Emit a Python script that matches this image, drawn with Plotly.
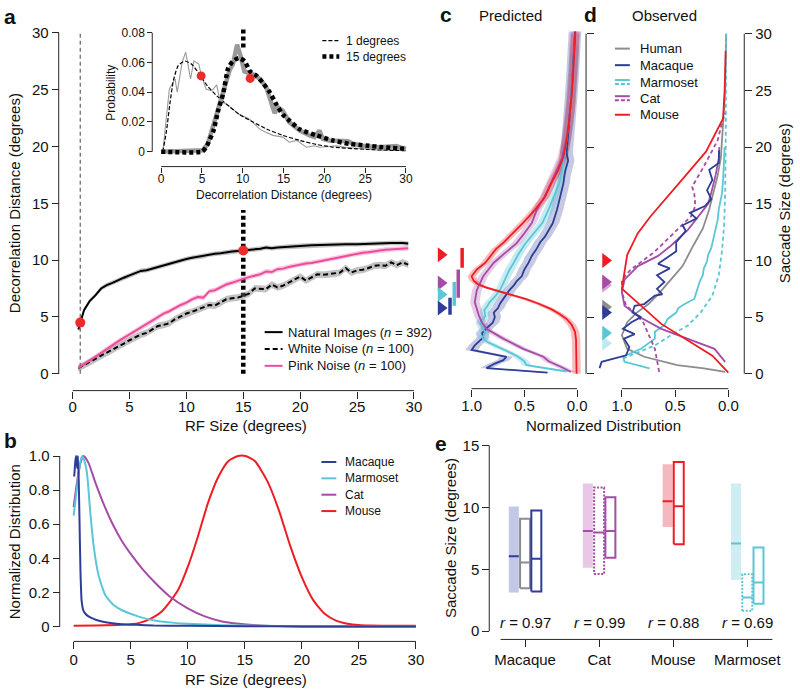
import plotly.graph_objects as go

# ======================= DATA =======================
# Panel a: decorrelation distance vs RF size
NAT_X = [0.5, 0.67, 1, 1.5, 2, 2.5, 3, 3.5, 4, 4.5, 5, 5.5, 6, 6.5, 7, 7.5, 8, 8.5, 9, 9.5,
         10, 10.5, 11, 11.5, 12, 12.5, 13, 13.5, 14, 14.5, 15, 15.5, 16, 16.5, 17, 17.5, 18,
         19, 20, 21, 22, 23, 24, 25, 26, 27, 28, 29, 29.5]
NAT_Y = [3.9, 4.5, 5.6, 6.4, 6.9, 7.5, 7.8, 8.0, 8.25, 8.45, 8.65, 8.85, 9.05, 9.1, 9.25, 9.4,
         9.55, 9.7, 9.85, 9.95, 10.1, 10.2, 10.3, 10.35, 10.5, 10.55, 10.6, 10.7, 10.75, 10.8,
         10.85, 10.85, 10.95, 11.0, 11.1, 11.05, 11.1, 11.2, 11.25, 11.3, 11.35, 11.35, 11.4,
         11.4, 11.45, 11.45, 11.5, 11.5, 11.45]
NOISE_X = [0.5, 1, 1.5, 2, 2.5, 3, 3.5, 4, 4.5, 5, 5.5, 6, 6.5, 7, 7.5, 8, 8.5, 9, 9.5, 10,
           10.5, 11, 11.5, 12, 12.5, 13, 13.5, 14, 14.5, 15, 15.5, 16, 16.5, 17, 17.5, 18,
           18.5, 19, 19.5, 20, 20.5, 21, 21.5, 22, 22.5, 23, 23.5, 24, 24.5, 25, 25.5, 26,
           26.5, 27, 27.5, 28, 28.5, 29, 29.5]
PINK_Y = [0.5, 0.8, 1.15, 1.5, 1.85, 2.2, 2.5, 2.85, 3.15, 3.45, 3.75, 4.05, 4.35, 4.65, 4.95,
          5.3, 5.5, 5.8, 6.05, 6.25, 6.55, 6.75, 6.7, 7.25, 7.35, 7.6, 7.85, 8.0, 8.2, 8.35,
          8.5, 8.65, 8.75, 9.0, 8.95, 9.2, 9.25, 9.4, 9.5, 9.65, 9.7, 9.75, 9.85, 10.0, 10.1,
          10.2, 10.25, 10.35, 10.5, 10.55, 10.65, 10.7, 10.8, 10.85, 10.9, 10.95, 11.0, 11.05, 11.05]
WHITE_Y = [0.5, 0.75, 1.0, 1.3, 1.6, 1.85, 2.1, 2.4, 2.65, 2.95, 3.2, 3.45, 3.6, 3.9, 4.2, 4.3,
           4.45, 4.8, 5.05, 5.3, 5.45, 5.65, 5.85, 6.05, 6.0, 6.25, 6.55, 6.65, 6.7, 6.85, 7.05,
           7.5, 7.5, 7.45, 7.85, 7.6, 7.75, 8.0, 8.25, 8.55, 8.2, 8.45, 8.75, 8.7, 8.75, 8.8,
           8.9, 9.3, 8.9, 9.1, 9.15, 9.3, 9.5, 9.55, 9.5, 9.8, 9.55, 9.8, 9.6]
NAT_SEM, PINK_SEM, WHITE_SEM = 0.2, 0.22, 0.3
A_DOT_X = [0.67, 15]
A_DOT_Y = [4.5, 10.85]
A_RF_SMALL, A_RF_LARGE = 0.67, 15

# Panel a inset: probability distributions
ONE_RAW_X = [0.2, 1.0, 1.7, 1.96, 2.57, 3.0, 3.6, 4.0, 4.6, 4.9, 5.5, 6.2, 6.8, 7.2, 8.0, 9.6,
             10.8, 12.1, 12.9, 13.7, 14.9, 15.7, 16.6, 17.2, 17.8, 18.8, 19.4, 20.5, 21.5, 22.5,
             23.5, 24.5, 25.5, 26.5, 27.5, 28.5, 29.5]
ONE_RAW_Y = [0, 0.042, 0.049, 0.040, 0.060, 0.067, 0.049, 0.061, 0.059, 0.052, 0.042, 0.041,
             0.045, 0.034, 0.032, 0.025, 0.022, 0.015, 0.013, 0.011, 0.0098, 0.0064, 0.0076,
             0.0053, 0.003, 0.004, 0.003, 0.0035, 0.004, 0.003, 0.0025, 0.002, 0.0015, 0.0012,
             0.001, 0.0012, 0.001]
ONE_FIT_X = [0.2, 0.65, 1.06, 1.5, 2.1, 2.9, 3.7, 4.7, 5.7, 6.8, 8.0, 9.6, 11.25, 12.9, 14.9,
             17, 19, 21, 25.1, 30]
ONE_FIT_Y = [0, 0.014, 0.032, 0.048, 0.058, 0.061, 0.059, 0.052, 0.044, 0.0376, 0.032, 0.025,
             0.020, 0.0153, 0.011, 0.0076, 0.0049, 0.0031, 0.0016, 0.0007]
FIF_RAW_X = [0, 5.1, 5.7, 6.6, 7.6, 8.4, 8.8, 9.3, 9.7, 10.2, 11.25, 12.1, 12.9, 13.5, 13.9,
             14.3, 14.9, 15.7, 17, 18.2, 18.8, 19.4, 19.8, 20.6, 21.9, 22.9, 23.5, 25.1, 26.7,
             28.2, 28.8, 29.4, 30]
FIF_RAW_Y = [0, 0.001, 0.005, 0.021, 0.039, 0.055, 0.059, 0.072, 0.065, 0.054, 0.052, 0.049,
             0.043, 0.034, 0.026, 0.030, 0.0276, 0.0198, 0.0142, 0.011, 0.0098, 0.0142, 0.0087,
             0.0076, 0.0071, 0.0071, 0.0053, 0.0036, 0.003, 0.0036, 0.0038, 0.0027, 0.002]
FIF_FIT_X = [0, 5.0, 5.5, 6.4, 7.0, 7.6, 8.2, 8.8, 9.5, 10.2, 10.9, 11.7, 12.5, 13.3, 14.1, 14.9,
             15.7, 17, 19, 21, 23, 25.1, 27.2, 30]
FIF_FIT_Y = [0, 0, 0.003, 0.014, 0.028, 0.039, 0.056, 0.061, 0.063, 0.061, 0.054, 0.051, 0.046,
             0.040, 0.032, 0.025, 0.021, 0.015, 0.011, 0.0076, 0.0053, 0.0042, 0.003, 0.002]
INSET_DOT_X = [4.9, 10.9]
INSET_DOT_Y = [0.051, 0.0493]

# Panel b: RF size distributions
MAC_X = [0.05, 0.15, 0.22, 0.3, 0.38, 0.45, 0.52, 0.6, 0.7, 0.85, 1.0, 1.3, 1.6, 2.0, 2.8, 4.2,
         5.5, 7.0, 10, 15, 20, 30]
MAC_Y = [0.88, 0.97, 1.0, 0.93, 1.0, 0.85, 0.6, 0.32, 0.15, 0.095, 0.078, 0.06, 0.049, 0.038,
         0.025, 0.014, 0.01, 0.006, 0.004, 0.002, 0.001, 0.0]
MAR_X = [0, 0.2, 0.4, 0.6, 0.75, 0.9, 1.17, 1.46, 1.75, 2.19, 2.77, 3.5, 4.2, 5.7, 7.1, 8.6, 10,
         13, 16, 20, 25, 30]
MAR_Y = [0.65, 0.76, 0.88, 0.97, 1.0, 0.98, 0.9, 0.67, 0.475, 0.30, 0.185, 0.126, 0.097, 0.058,
         0.035, 0.023, 0.016, 0.008, 0.004, 0.002, 0.001, 0.0]
CAT_X = [0, 0.3, 0.6, 0.87, 1.3, 1.9, 2.5, 3.35, 4.2, 5.1, 6.0, 7.1, 8.45, 10, 11.5, 13, 14.5,
         16, 18, 20, 25, 30]
CAT_Y = [0.70, 0.85, 0.96, 1.0, 0.96, 0.845, 0.74, 0.61, 0.505, 0.417, 0.34, 0.26, 0.175, 0.107,
         0.06, 0.03, 0.016, 0.008, 0.003, 0.001, 0.0, 0.0]
MOU_X = [0, 2, 4.2, 5.7, 6.85, 7.7, 8.45, 9.2, 10.06, 10.9, 11.8, 12.7, 13.55, 14.4, 15.07, 15.9,
         17, 18, 19, 20, 21, 22, 23, 24, 25, 26, 28, 30]
MOU_Y = [0.005, 0.006, 0.01, 0.02, 0.05, 0.087, 0.146, 0.22, 0.36, 0.53, 0.73, 0.88, 0.97, 1.0,
         1.0, 0.97, 0.85, 0.68, 0.47, 0.29, 0.155, 0.075, 0.035, 0.017, 0.009, 0.006, 0.005, 0.005]

# Panel c: predicted saccade-size distributions (y = saccade size, v = normalized)
C_RED_Y = [0, 1, 2, 3, 3.7, 4.3, 4.84, 5.3, 5.7, 6.2, 6.6, 6.9, 7.2, 7.6, 7.9, 8.2, 8.6, 9.2, 9.8,
           10.4, 11, 11.55, 12.15, 12.7, 13.3, 14.46, 15.6, 16.8, 17.96, 19.1, 20.6, 22, 23.5,
           25, 26.4, 27.9, 29.5, 30.2]
C_RED_V = [0.005, 0.005, 0.007, 0.01, 0.02, 0.05, 0.1, 0.17, 0.245, 0.37, 0.49, 0.6, 0.71, 0.86,
           0.94, 0.98, 1.0, 0.95, 0.87, 0.82, 0.77, 0.70, 0.635, 0.57, 0.515, 0.40, 0.305, 0.245,
           0.18, 0.13, 0.10, 0.08, 0.06, 0.047, 0.038, 0.028, 0.02, 0.016]
C_BLUE_Y = [0.1, 0.5, 0.9, 1.2, 1.5, 2.1, 2.5, 3.2, 3.6, 4.0, 4.5, 5.0, 5.4, 5.8, 6.2, 6.6, 6.9,
            7.4, 7.8, 8.2, 8.6, 9.2, 9.8, 10.4, 11.0, 11.6, 12.1, 12.7, 13.3, 14.5, 15.6, 16.8,
            17.5, 18.0, 18.8, 19.5, 20.5, 22, 24, 26, 28, 30.2]
C_BLUE_V = [0.28, 0.86, 0.78, 0.70, 0.67, 1.0, 0.97, 0.89, 0.90, 0.86, 0.80, 0.78, 0.79, 0.75,
            0.73, 0.70, 0.67, 0.64, 0.60, 0.57, 0.525, 0.50, 0.46, 0.43, 0.385, 0.35, 0.305, 0.27,
            0.23, 0.19, 0.16, 0.13, 0.12, 0.11, 0.085, 0.10, 0.09, 0.075, 0.06, 0.045, 0.03, 0.02]
C_CYAN_Y = [0.2, 0.5, 0.76, 1.1, 1.5, 1.8, 2.1, 2.5, 2.8, 3.2, 3.6, 3.96, 4.5, 5.1, 5.6, 6.0, 6.3,
            6.8, 7.4, 8.0, 8.6, 9.2, 9.8, 10.5, 11.5, 12.4, 13.3, 14.5, 15.6, 16.8, 18.0, 19.5,
            21, 23, 25, 27, 29]
C_CYAN_V = [0.1, 0.3, 0.48, 0.5, 0.56, 0.62, 0.69, 0.78, 0.85, 0.9, 0.87, 0.89, 0.92, 0.87, 0.88,
            0.85, 0.83, 0.78, 0.73, 0.70, 0.67, 0.64, 0.6, 0.56, 0.49, 0.41, 0.33, 0.27, 0.22,
            0.17, 0.14, 0.115, 0.095, 0.07, 0.05, 0.035, 0.025]
C_MAG_Y = [0.15, 0.6, 1.1, 1.5, 2.2, 3.1, 3.96, 4.5, 5.1, 5.7, 6.3, 6.9, 7.4, 8.0, 8.6, 9.2, 9.8,
           10.6, 11.5, 12.4, 13.3, 14.5, 15.6, 16.8, 18, 19.1, 20.6, 22, 24, 26, 28, 30]
C_MAG_V = [0.056, 0.15, 0.27, 0.32, 0.51, 0.70, 0.86, 0.9, 0.93, 0.95, 0.97, 0.96, 0.95, 0.92,
           0.89, 0.84, 0.79, 0.69, 0.575, 0.5, 0.43, 0.38, 0.31, 0.25, 0.19, 0.14, 0.105, 0.082,
           0.058, 0.042, 0.03, 0.02]
C_SEM = {"Macaque": 0.06, "Marmoset": 0.045, "Cat": 0.045, "Mouse": 0.04}
# predicted medians (triangles) and ranges (bars) at left of panel c
C_TRI = {"Mouse": 10.5, "Cat": 8.0, "Marmoset": 7.0, "Macaque": 5.8}
C_BAR = {"Mouse": (9.35, 11.1), "Cat": (6.7, 9.2), "Marmoset": (6.0, 8.1), "Macaque": (5.2, 6.7)}

# Panel d: observed saccade-size distributions
D_RED_Y = [0.1, 1.6, 4.4, 7.5, 10.5, 12.4, 13.9, 15.5, 17.5, 19.6, 22.5, 25, 28.5]
D_RED_V = [0.0, 0.15, 0.63, 1.0, 0.95, 0.85, 0.73, 0.58, 0.40, 0.21, 0.05, 0.035, 0.025]
D_CAT_Y = [1.05, 2.2, 3.96, 5.1, 6.0, 7.2, 8.3, 9.5, 10.4, 11.3, 12.7, 14.2, 15.0, 16.0, 17.5, 19.0, 20.0]
D_CAT_V = [0.03, 0.13, 0.63, 0.85, 0.975, 1.0, 0.975, 0.85, 0.66, 0.54, 0.38, 0.26, 0.19, 0.16, 0.12, 0.09, 0.085]
D_CAT2_Y = [0.17, 2.2, 4.55, 5.3, 6.0, 7.2, 8.3, 9.2, 10.7, 12.4, 13.9, 14.8, 15.9, 16.5, 18.3, 20.6, 22.3, 23.0]
D_CAT2_V = [0.65, 0.69, 0.8, 0.87, 0.96, 1.0, 1.0, 0.915, 0.7, 0.51, 0.35, 0.31, 0.32, 0.34, 0.23, 0.10, 0.056, 0.03]
D_MAC_Y = [0.5, 1.05, 1.63, 2.35, 3.1, 3.5, 3.96, 4.55, 5.0, 5.4, 6.0, 6.15, 6.9, 7.0, 7.5, 8.1,
           8.7, 9.3, 9.7, 10.8, 11.6, 12.6, 13.1, 13.7, 14.2, 14.8, 15.4, 16.2, 17.1, 18.0, 18.6, 19.7]
D_MAC_V = [1.21, 1.19, 0.96, 0.93, 0.98, 0.88, 0.99, 0.91, 0.82, 0.9, 0.88, 0.79, 0.69, 0.62, 0.67,
           0.6, 0.67, 0.55, 0.66, 0.49, 0.49, 0.40, 0.43, 0.30, 0.36, 0.22, 0.16, 0.2, 0.15, 0.18,
           0.09, 0.087]
D_HUM_Y = [0.17, 0.47, 0.76, 1.5, 2.2, 3.4, 4.55, 5.4, 6.15, 7.0, 8.2, 9.5, 11.3, 12.8, 14.5,
           15.9, 17.5, 19.1, 22, 24.9, 27.8, 30]
D_HUM_V = [0.03, 0.23, 0.48, 0.79, 0.95, 1.0, 0.95, 0.86, 0.75, 0.66, 0.55, 0.43, 0.33, 0.24,
           0.18, 0.14, 0.10, 0.07, 0.05, 0.03, 0.025, 0.02]
D_MAR_Y = [0.47, 1.05, 1.5, 2.2, 3.1, 3.7, 4.3, 4.84, 5.4, 5.8, 6.15, 6.6, 7.5, 8.1, 8.7, 9.3,
           9.9, 10.5, 11.1, 12.0, 12.8, 13.6, 14.5, 15.9, 17, 18, 19, 20]
D_MAR_V = [0.74, 0.975, 0.99, 0.82, 0.69, 0.69, 0.6, 0.57, 0.49, 0.47, 0.41, 0.32, 0.29, 0.27,
           0.24, 0.23, 0.2, 0.19, 0.16, 0.14, 0.12, 0.1, 0.09, 0.06, 0.05, 0.045, 0.04, 0.035]
D_MAR2_Y = [1.34, 2.5, 3.4, 4.26, 5.4, 6.9, 8.7, 10.8, 13.1, 15.9, 20, 25, 30]
D_MAR2_V = [0.99, 0.69, 0.54, 0.38, 0.26, 0.15, 0.09, 0.06, 0.04, 0.03, 0.025, 0.02, 0.02]
# observed medians (triangles) at left of panel d
D_TRI = [("Cat dotted", 7.8), ("Cat", 8.1), ("Mouse", 10.0), ("Human", 5.9), ("Macaque", 5.4),
         ("Marmoset dotted", 2.7), ("Marmoset", 3.6)]

# Panel e: box summaries (low, median, high)
E_CATS = ["Macaque", "Cat", "Mouse", "Marmoset"]
E_PRED = [(3.13, 6.06, 10.06), (5.12, 8.09, 11.93), (8.41, 10.49, 13.48), (4.14, 7.08, 11.93)]
E_ALT = [(3.47, 5.55, 9.08), (4.62, 7.96, 11.6), None, (1.66, 2.72, 4.59)]
E_OBS = [(3.2, 5.85, 9.74), (5.93, 8.09, 10.81), (7.02, 10.09, 13.67), (2.22, 3.93, 6.76)]
E_R = ["0.97", "0.99", "0.88", "0.69"]

# ======================= STYLE =======================
W, H = 800, 690
FONT = "Liberation Sans, Arial, Helvetica, sans-serif"
AXC = "#262626"
TXT = "#111111"
BLUE, CYAN, MAG, RED, GRAY, PINK = "#2E3D98", "#5BC6D7", "#A64CA6", "#EE1D25", "#8C8C8C", "#EC4C9A"
COL = {"Macaque": BLUE, "Marmoset": CYAN, "Cat": MAG, "Mouse": RED, "Human": GRAY,
       "Cat dotted": "#D7A2D3", "Marmoset dotted": "#BFE9F0"}
FILL = {"Macaque": "#C2C8E5", "Cat": "#E8C8E6", "Mouse": "#F5B8BE", "Marmoset": "#CFEEF4"}
BAND = {"Macaque": "rgba(46,61,152,0.28)", "Marmoset": "rgba(91,198,215,0.35)",
        "Cat": "rgba(166,76,166,0.28)", "Mouse": "rgba(238,29,37,0.30)"}


def dom_x(p0, v0, p1, v1, r0, r1):
    k = (p1 - p0) / (v1 - v0)
    a, b = p0 + (r0 - v0) * k, p0 + (r1 - v0) * k
    return [min(a, b) / W, max(a, b) / W]


def dom_y(p0, v0, p1, v1, r0, r1):
    k = (p1 - p0) / (v1 - v0)
    a, b = p0 + (r0 - v0) * k, p0 + (r1 - v0) * k
    return [1 - max(a, b) / H, 1 - min(a, b) / H]


def axis(dom, rng, pos, tv, tt, size=15, side=None, ticklen=7, labels=True, standoff=0):
    d = dict(domain=dom, range=rng, anchor="free", position=pos, tickmode="array",
             tickvals=tv, ticktext=tt, ticks="outside", ticklen=ticklen, tickwidth=1,
             tickcolor=AXC, showline=False, showgrid=False, zeroline=False,
             showticklabels=labels, fixedrange=True, ticklabelstandoff=standoff,
             tickfont=dict(size=size, family=FONT, color=TXT))
    if side:
        d["side"] = side
    return d


fig = go.Figure()
shapes, ann = [], []


def hline(xref, x0, x1, py):
    shapes.append(dict(type="line", xref=xref, yref="paper", x0=x0, x1=x1,
                       y0=1 - py / H, y1=1 - py / H, line=dict(color=AXC, width=1)))


def vline(yref, y0, y1, px):
    shapes.append(dict(type="line", xref="paper", yref=yref, x0=px / W, x1=px / W,
                       y0=y0, y1=y1, line=dict(color=AXC, width=1)))


def text(s, px, py, size=15, angle=0, xanchor="center", color=TXT):
    ann.append(dict(text=s, x=px / W, y=1 - py / H, xref="paper", yref="paper",
                    showarrow=False, textangle=angle, xanchor=xanchor, yanchor="middle",
                    font=dict(size=size, family=FONT, color=color)))


def legline(px0, px1, py, color, width=2, dash="solid"):
    shapes.append(dict(type="line", xref="paper", yref="paper", x0=px0 / W, x1=px1 / W,
                       y0=1 - py / H, y1=1 - py / H, line=dict(color=color, width=width, dash=dash)))


def line(x, y, xa, ya, color, width=2, dash="solid", shape="linear", smoothing=None):
    ln = dict(color=color, width=width, dash=dash, shape=shape)
    if smoothing is not None:
        ln["smoothing"] = smoothing
    fig.add_trace(go.Scatter(x=x, y=y, xaxis=xa, yaxis=ya, mode="lines", line=ln,
                             hoverinfo="skip"))


def band_h(x, y, e, xa, ya, color):
    xs = list(x) + list(x)[::-1]
    ys = [v + e for v in y] + [v - e for v in y][::-1]
    fig.add_trace(go.Scatter(x=xs, y=ys, xaxis=xa, yaxis=ya, mode="lines", fill="toself",
                             fillcolor=color, line=dict(width=0), hoverinfo="skip"))


def band_v(v, y, e, xa, ya, color):
    ys = list(y) + list(y)[::-1]
    xs = [a + e for a in v] + [a - e for a in v][::-1]
    fig.add_trace(go.Scatter(x=xs, y=ys, xaxis=xa, yaxis=ya, mode="lines", fill="toself",
                             fillcolor=color, line=dict(width=0), hoverinfo="skip"))


# ======================= PANEL A =======================
AX_R, AY_R = [-0.5, 30.5], [-0.6, 30.8]
xa_dom = dom_x(72, 0, 415, 30, *AX_R)
ya_dom = dom_y(372, 0, 28, 30, *AY_R)
line([A_RF_SMALL, A_RF_SMALL], [0, 30], "x", "y", "#6e6e6e", 1.3, "4px,3px")
line([A_RF_LARGE, A_RF_LARGE], [0, 14.4], "x", "y", "black", 4.5, "4px,3px")
line([A_RF_LARGE, A_RF_LARGE], [28.7, 30.3], "x", "y", "black", 4.5, "4px,3px")
band_h(NOISE_X, WHITE_Y, WHITE_SEM, "x", "y", "rgba(120,120,120,0.45)")
band_h(NOISE_X, PINK_Y, PINK_SEM, "x", "y", "rgba(236,76,154,0.3)")
band_h(NAT_X, NAT_Y, NAT_SEM, "x", "y", "rgba(120,120,120,0.45)")
line(NOISE_X, WHITE_Y, "x", "y", "black", 2, "5px,3px")
line(NOISE_X, PINK_Y, "x", "y", PINK, 2)
line(NAT_X, NAT_Y, "x", "y", "black", 2)
fig.add_trace(go.Scatter(x=A_DOT_X, y=A_DOT_Y, xaxis="x", yaxis="y", mode="markers",
                         marker=dict(color="#EE2B2B", size=10), hoverinfo="skip"))
hline("x", 0, 30, 389)
vline("y", 0, 30, 58)
text("Decorrelation Distance (degrees)", 13, 200, 15, -90)
text("RF Size (degrees)", 246, 424, 15)
text("<b>a</b>", 1, 12, 21, xanchor="left")
# legend a
legline(265, 283, 330, "black", 2)
legline(265, 283, 347, "black", 2, "5px,3px")
legline(265, 283, 364, PINK, 2)
text("Natural Images (<i>n</i> = 392)", 286, 330, 13, xanchor="left")
text("White Noise (<i>n</i> = 100)", 286, 347, 13, xanchor="left")
text("Pink Noise (<i>n</i> = 100)", 286, 364, 13, xanchor="left")

# ======================= INSET =======================
IX_R, IY_R = [-0.6, 30.6], [-0.004, 0.084]
xi_dom = dom_x(161, 0, 407, 30, *IX_R)
yi_dom = dom_y(148, 0, 28, 0.08, *IY_R)
line(ONE_RAW_X, ONE_RAW_Y, "x2", "y2", "#9a9a9a", 1.1)
line(ONE_FIT_X, ONE_FIT_Y, "x2", "y2", "black", 1.2, "4px,2px", "spline", 0.6)
line(FIF_RAW_X, FIF_RAW_Y, "x2", "y2", "#9a9a9a", 4.5)
line(FIF_FIT_X, FIF_FIT_Y, "x2", "y2", "black", 4.5, "4px,3px", "spline", 0.5)
fig.add_trace(go.Scatter(x=INSET_DOT_X, y=INSET_DOT_Y, xaxis="x2", yaxis="y2", mode="markers",
                         marker=dict(color="#EE2B2B", size=9), hoverinfo="skip"))
hline("x2", 0, 30, 163)
vline("y2", 0, 0.08, 152)
text("Probability", 111, 88, 12, -90)
text("Decorrelation Distance (degrees)", 284, 192, 12)
legline(323, 340, 36, "black", 1.2, "4px,2px")
legline(323, 340, 52, "black", 4.5, "4px,3px")
text("1 degrees", 345, 36, 12, xanchor="left")
text("15 degrees", 345, 52, 12, xanchor="left")

# ======================= PANEL B =======================
BX_R, BY_R = [-0.6, 30.6], [-0.04, 1.05]
xb_dom = dom_x(73, 0, 417, 30, *BX_R)
yb_dom = dom_y(627, 0, 455, 1.0, *BY_R)
line(MOU_X, MOU_Y, "x3", "y3", RED, 2, shape="spline", smoothing=0.6)
line(CAT_X, CAT_Y, "x3", "y3", MAG, 2, shape="spline", smoothing=0.6)
line(MAR_X, MAR_Y, "x3", "y3", CYAN, 2, shape="spline", smoothing=0.5)
line(MAC_X, MAC_Y, "x3", "y3", BLUE, 2, shape="spline", smoothing=0.4)
hline("x3", 0, 30, 642)
vline("y3", 0, 1, 59)
text("Normalized Distribution", 13, 541, 15, -90)
text("RF Size (degrees)", 246, 680, 15)
text("<b>b</b>", 1, 439, 21, xanchor="left")
for i, (nm, c) in enumerate([("Macaque", BLUE), ("Marmoset", CYAN), ("Cat", MAG), ("Mouse", RED)]):
    py = 461 + i * 16.5
    legline(322, 337, py, c, 2)
    text(nm, 344, py, 12, xanchor="left")

# ======================= PANEL C =======================
CX_R, CY_R = [1.4, -0.085], [-0.8, 31.0]
xc_dom = dom_x(473, 1.0, 579, 0.0, *CX_R)
yc_dom = dom_y(372, 0, 29, 30, *CY_R)
for nm, yy, vv in [("Macaque", C_BLUE_Y, C_BLUE_V), ("Marmoset", C_CYAN_Y, C_CYAN_V),
                   ("Cat", C_MAG_Y, C_MAG_V), ("Mouse", C_RED_Y, C_RED_V)]:
    band_v(vv, yy, C_SEM[nm], "x4", "y4", BAND[nm])
for nm, yy, vv in [("Macaque", C_BLUE_Y, C_BLUE_V), ("Marmoset", C_CYAN_Y, C_CYAN_V),
                   ("Cat", C_MAG_Y, C_MAG_V), ("Mouse", C_RED_Y, C_RED_V)]:
    line(vv, yy, "x4", "y4", COL[nm], 1.8)
C_TRI_V = 1.29
C_BAR_V = {"Mouse": 1.09, "Cat": 1.127, "Marmoset": 1.165, "Macaque": 1.205}
for nm in ["Mouse", "Cat", "Marmoset", "Macaque"]:
    lo, hi = C_BAR[nm]
    line([C_BAR_V[nm], C_BAR_V[nm]], [lo, hi], "x4", "y4", COL[nm], 3.5)
    fig.add_trace(go.Scatter(x=[C_TRI_V], y=[C_TRI[nm]], xaxis="x4", yaxis="y4", mode="markers",
                             marker=dict(symbol="triangle-right", size=13, color=COL[nm]),
                             hoverinfo="skip"))
hline("x4", 1.0, 0.0, 387)
vline("y4", 0, 30, 588)
text("Predicted", 512, 11, 15)
text("<b>c</b>", 447, 10, 21)

# ======================= PANEL D =======================
DX_R, DY_R = [1.3, -0.15], [-0.8, 31.0]
xd_dom = dom_x(624, 1.0, 731, 0.0, *DX_R)
yd_dom = dom_y(372, 0, 29, 30, *DY_R)
line(D_HUM_V, D_HUM_Y, "x5", "y5", GRAY, 1.8)
line(D_MAR2_V, D_MAR2_Y, "x5", "y5", CYAN, 1.8, "4px,3px")
line(D_MAR_V, D_MAR_Y, "x5", "y5", CYAN, 1.8)
line(D_CAT2_V, D_CAT2_Y, "x5", "y5", MAG, 1.8, "4px,3px")
line(D_CAT_V, D_CAT_Y, "x5", "y5", MAG, 1.8)
line(D_MAC_V, D_MAC_Y, "x5", "y5", BLUE, 1.8)
line(D_RED_V, D_RED_Y, "x5", "y5", RED, 1.8)
D_TRI_V = 1.154
for nm, yv in D_TRI:
    fig.add_trace(go.Scatter(x=[D_TRI_V], y=[yv], xaxis="x5", yaxis="y5", mode="markers",
                             marker=dict(symbol="triangle-right", size=13, color=COL[nm]),
                             hoverinfo="skip"))
hline("x5", 1.0, 0.0, 387)
vline("y5", 0, 30, 747)
text("Observed", 667, 11, 15)
text("<b>d</b>", 592, 10, 21)
text("Saccade Size (degrees)", 787, 200, 15, -90)
text("Normalized Distribution", 606, 424, 15)
# legend d
legline(617, 632, 44, GRAY, 2)
text("Human", 640, 44, 13, xanchor="left")
legline(617, 632, 60.7, BLUE, 2)
text("Macaque", 640, 60.7, 13, xanchor="left")
legline(617, 632, 75.7, CYAN, 2)
legline(617, 632, 79.7, CYAN, 2, "4px,2px")
text("Marmoset", 640, 77.7, 13, xanchor="left")
legline(617, 632, 92, MAG, 2)
legline(617, 632, 96, MAG, 2, "4px,2px")
text("Cat", 640, 94, 13, xanchor="left")
legline(617, 632, 110.7, RED, 2)
text("Mouse", 640, 110.7, 13, xanchor="left")

# ======================= PANEL E =======================
EX_R, EY_R = [0.6, 4.45], [-0.6, 15.3]
E_POS = [1, 2, 3, 4]
xe_dom = dom_x(526.7, 1, 750, 4, *EX_R)
ye_dom = dom_y(631.7, 0, 444.3, 15, *EY_R)
BW = 0.135


def rect(cx, lo, hi, fill=None, edge=None, dash="solid"):
    xs = [cx - BW / 2, cx + BW / 2, cx + BW / 2, cx - BW / 2, cx - BW / 2]
    ys = [lo, lo, hi, hi, lo]
    if fill:
        fig.add_trace(go.Scatter(x=xs, y=ys, xaxis="x6", yaxis="y6", mode="lines", fill="toself",
                                 fillcolor=fill, line=dict(width=0), hoverinfo="skip"))
    else:
        fig.add_trace(go.Scatter(x=xs, y=ys, xaxis="x6", yaxis="y6", mode="lines",
                                 line=dict(color=edge, width=2, dash=dash), hoverinfo="skip"))


def med(cx, m, color):
    line([cx - BW / 2, cx + BW / 2], [m, m], "x6", "y6", color, 2)


for i, nm in enumerate(E_CATS):
    c = COL[nm]
    off = 0.075 if E_ALT[i] is None else 0.152
    lo, m, hi = E_PRED[i]
    rect(E_POS[i] - off, lo, hi, fill=FILL[nm])
    med(E_POS[i] - off, m, c)
    if E_ALT[i] is not None:
        lo, m, hi = E_ALT[i]
        if nm == "Macaque":
            rect(E_POS[i], lo, hi, edge=GRAY)
            med(E_POS[i], m, GRAY)
        else:
            rect(E_POS[i], lo, hi, edge=c, dash="2px,1.5px")
            med(E_POS[i], m, c)
    lo, m, hi = E_OBS[i]
    rect(E_POS[i] + off, lo, hi, edge=c)
    med(E_POS[i] + off, m, c)
    ann.append(dict(text="<i>r</i> = " + E_R[i], x=E_POS[i], y=0.72, xref="x6", yref="y6",
                    showarrow=False, font=dict(size=15, family=FONT, color=TXT)))
hline("x6", 0.67, 4.34, 640)
vline("y6", 0, 15, 490.7)
text("Saccade Size (degrees)", 452, 538, 15, -90)
text("<b>e</b>", 442, 442, 21)

# ======================= LAYOUT =======================
ticks30 = [0, 5, 10, 15, 20, 25, 30]
lab30 = [str(t) for t in ticks30]
fig.update_layout(
    width=W, height=H, margin=dict(l=0, r=0, t=0, b=0),
    paper_bgcolor="white", plot_bgcolor="rgba(0,0,0,0)", showlegend=False,
    font=dict(family=FONT, color=TXT),
    xaxis=axis(xa_dom, AX_R, 1 - 389 / H, ticks30, lab30, standoff=-5),
    yaxis=axis(ya_dom, AY_R, 58 / W, ticks30, lab30),
    xaxis2=axis(xi_dom, IX_R, 1 - 163 / H, ticks30, lab30, size=12, ticklen=5, standoff=-4),
    yaxis2=axis(yi_dom, IY_R, 152 / W, [0, 0.02, 0.04, 0.06, 0.08],
                ["0", "0.02", "0.04", "0.06", "0.08"], size=12, ticklen=5),
    xaxis3=axis(xb_dom, BX_R, 1 - 642 / H, ticks30, lab30, standoff=-2),
    yaxis3=axis(yb_dom, BY_R, 59 / W, [0, 0.2, 0.4, 0.6, 0.8, 1.0],
                ["0", "0.2", "0.4", "0.6", "0.8", "1.0"]),
    xaxis4=axis(xc_dom, CX_R, 1 - 387 / H, [1.0, 0.5, 0.0], ["1.0", "0.5", "0.0"], standoff=-4),
    yaxis4=axis(yc_dom, CY_R, 588 / W, ticks30, lab30, side="right", labels=False),
    xaxis5=axis(xd_dom, DX_R, 1 - 387 / H, [1.0, 0.5, 0.0], ["1.0", "0.5", "0.0"], standoff=-4),
    yaxis5=axis(yd_dom, DY_R, 747 / W, ticks30, lab30, side="right"),
    xaxis6=axis(xe_dom, EX_R, 1 - 640 / H, E_POS, E_CATS),
    yaxis6=axis(ye_dom, EY_R, 490.7 / W, [0, 5, 10, 15], ["0", "5", "10", "15"]),
    shapes=shapes, annotations=ann,
)
fig.write_html("out.html", config={"displayModeBar": False},
               post_script="document.body.style.margin='0';document.body.style.overflow='hidden';")
